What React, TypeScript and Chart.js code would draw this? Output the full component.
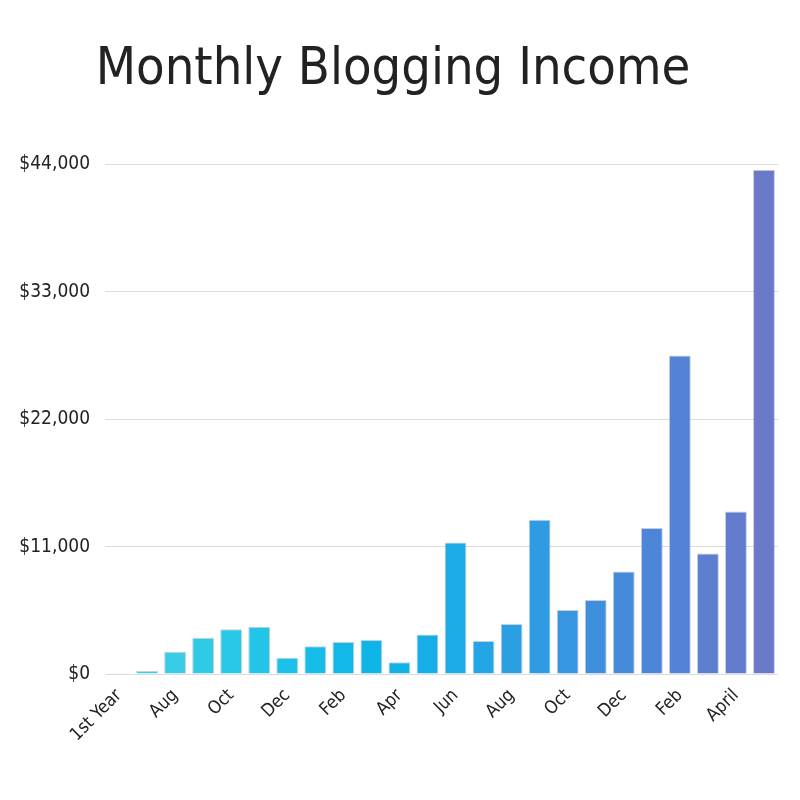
import { useEffect, useRef } from "react"
import { Chart, registerables } from "chart.js"

Chart.register(...registerables)

const months = [
  "1st Year", "Jul", "Aug", "Sep", "Oct", "Nov", "Dec", "Jan", "Feb", "Mar", "Apr", "May",
  "Jun", "Jul", "Aug", "Sep", "Oct", "Nov", "Dec", "Jan", "Feb", "Mar", "April", "May",
]
const income = [
  60, 250, 1930, 3140, 3860, 4090, 1410, 2390, 2770, 2940, 1010, 3400,
  11350, 2850, 4320, 13320, 5530, 6400, 8850, 12600, 27500, 10400, 14040, 43530,
]
const yTicks = [0, 11000, 22000, 33000, 44000]

const barColors = [
  "#45CDE3", "#3FCCE5", "#38CCE6", "#2FCAE6", "#28C8E8", "#22C5E8", "#1CC1E9", "#15BDE8",
  "#12B9E8", "#10B5E7", "#12B2E7", "#17AEE7", "#1DAAE6", "#24A5E5", "#2AA0E3", "#309BE2",
  "#3895DF", "#3F90DC", "#468ADA", "#4D86D8", "#5482D5", "#5B7ECF", "#637BCC", "#6A78C8",
]

const FONT = '"Liberation Sans Narrow", "DejaVu Sans Condensed", Roboto, sans-serif'

const IncomeChart = () => {
  const chartRef = useRef<HTMLCanvasElement>(null)

  useEffect(() => {
    if (!chartRef.current) return
    const chart = new Chart(chartRef.current, {
      type: "bar",
      data: {
        labels: months,
        datasets: [{
          label: "Income",
          data: income,
          backgroundColor: barColors,
          borderColor: barColors.map(() => "rgba(40,60,120,0.25)"),
          borderWidth: 1,
          categoryPercentage: 1,
          barPercentage: 0.78,
        }]
      },
      options: {
        responsive: true,
        maintainAspectRatio: false,
        animation: false,
        layout: { padding: { left: 0, right: 14, top: 0, bottom: 0 } },
        scales: {
          x: {
            grid: { display: false },
            border: { display: false },
            ticks: {
              autoSkip: false,
              maxRotation: 45,
              minRotation: 45,
              color: "#222",
              font: { family: FONT, size: 18 },
              callback: (_v, i) => (i % 2 === 0 ? months[i] : ""),
            },
            afterFit: (scale) => { scale.height = 118 },
          },
          y: {
            min: 0,
            max: 44000,
            afterBuildTicks: (scale) => { scale.ticks = yTicks.map(v => ({ value: v })) },
            grid: { color: "#dcdcdc", drawTicks: false },
            border: { display: false },
            ticks: {
              color: "#222",
              padding: 15,
              font: { family: FONT, size: 19 },
              callback: (v) => "$" + Number(v).toLocaleString("en-US"),
            },
            afterFit: (scale) => { scale.width = 97 },
          },
        },
        plugins: {
          legend: { display: false },
          tooltip: { enabled: false },
          title: {
            display: true,
            text: "Monthly Blogging Income",
            color: "#222",
            font: { family: FONT, size: 52, weight: "normal" },
            padding: { top: 31, bottom: 63 },
          },
        },
      },
    })

    return () => chart.destroy()
  }, [])

  return <canvas ref={chartRef}></canvas>
}

export default function App() {
  return (
    <div style={{ width: 784, height: 784, background: "#fff" }}>
      <IncomeChart />
    </div>
  )
}
